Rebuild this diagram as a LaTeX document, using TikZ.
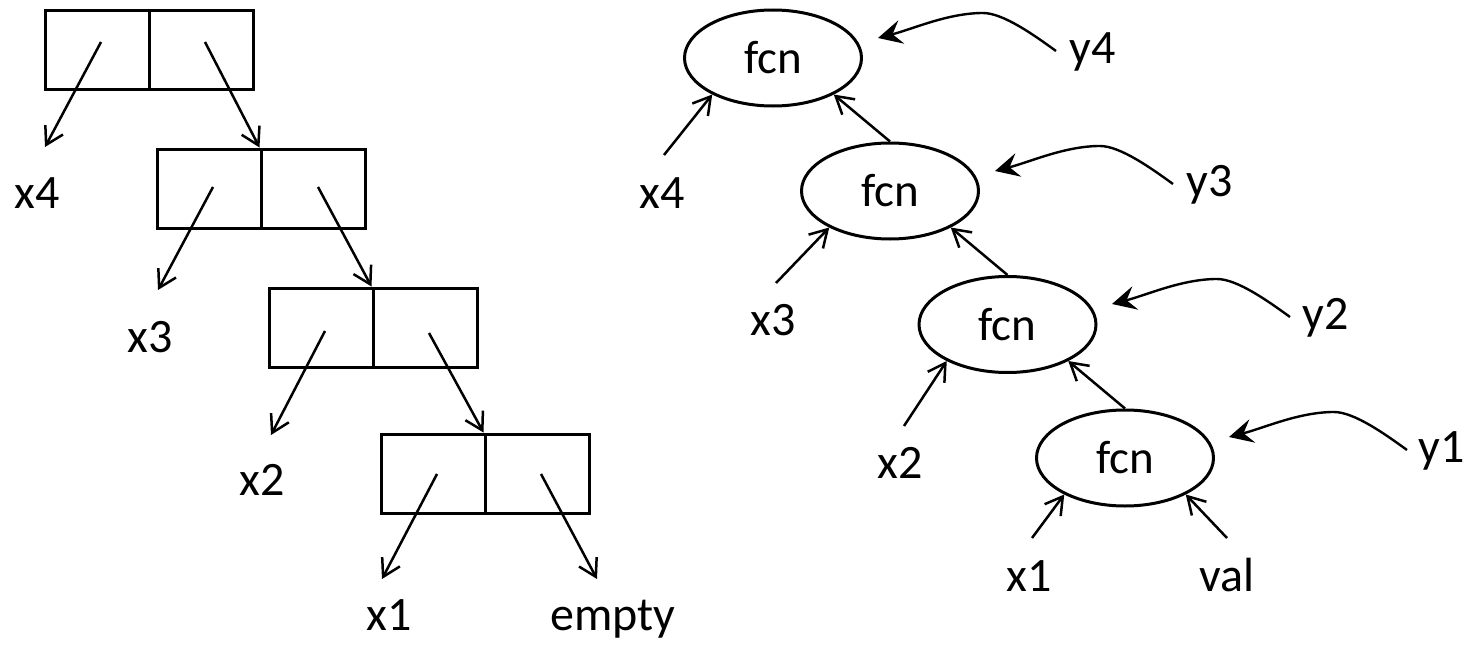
\documentclass[tikz,border=0pt]{standalone}
\usepackage{fontspec}
\setmainfont{Carlito}
\usetikzlibrary{arrows.meta,shapes.geometric}
\tikzset{
  lbl/.style={anchor=base,inner sep=0pt,font=\fontsize{24}{28}\selectfont},
  cell/.style={draw,line width=1.5pt,minimum width=52pt,minimum height=39.5pt,inner sep=0pt},
  fcnnode/.style={draw,ellipse,line width=1.5pt,minimum width=88.5pt,minimum height=48pt,inner sep=0pt,font=\fontsize{23.5}{28}\selectfont},
  ptr/.style={line width=1.25pt,-{Straight Barb[length=8.5pt,width=10pt]}},
  yarr/.style={line width=1.2pt,-{Stealth[length=12pt,width=12pt,inset=4.5pt]}}
}
\begin{document}
\begin{tikzpicture}[x=0.5pt,y=-0.5pt]
\useasboundingbox (0,0) rectangle (1474,648);
% ---- left: boxes
\node[cell] (bL1) at (97,49.5) {};
\node[cell] (bR1) at (201,49.5) {};
\node[cell] (bL2) at (209,188.5) {};
\node[cell] (bR2) at (313,188.5) {};
\node[cell] (bL3) at (321,327.5) {};
\node[cell] (bR3) at (425,327.5) {};
\node[cell] (bL4) at (433,473.5) {};
\node[cell] (bR4) at (537,473.5) {};
% labels
\node[lbl] (lx4) at (37,208) {x4};
\node[lbl] (lx3) at (150,352) {x3};
\node[lbl] (lx2) at (262,495) {x2};
\node[lbl] (lx1) at (389,630) {x1};
\node[lbl,anchor=base west] (lempty) at (550,630) {empty};
% pointer coordinates
\coordinate (s1l) at (101,42);  \coordinate (t1l) at (45,147);
\coordinate (s1r) at (205,42);
\coordinate (s2l) at (213,187); \coordinate (t2l) at (158,290);
\coordinate (s2r) at (318,187);
\coordinate (s3l) at (325,331); \coordinate (t3l) at (271,435);
\coordinate (s3r) at (429,333);
\coordinate (s4l) at (437,474); \coordinate (t4l) at (382,579);
\coordinate (s4r) at (541,474); \coordinate (t4r) at (597,579);
\draw[ptr] (s1l) -- (t1l);
\draw[ptr] (s1r) -- (bR2.north west);
\draw[ptr] (s2l) -- (t2l);
\draw[ptr] (s2r) -- (bR3.north west);
\draw[ptr] (s3l) -- (t3l);
\draw[ptr] (s3r) -- (bR4.north west);
\draw[ptr] (s4l) -- (t4l);
\draw[ptr] (s4r) -- (t4r);
% ---- right: fcn tree
\node[fcnnode] (e1) at (773,58) {fcn};
\node[fcnnode] (e2) at (890,191) {fcn};
\node[fcnnode] (e3) at (1007.5,324.5) {fcn};
\node[fcnnode] (e4) at (1125,458) {fcn};
\node[lbl] (rx4) at (662,208) {x4};
\node[lbl] (rx3) at (773,335) {x3};
\node[lbl] (rx2) at (900,478) {x2};
\node[lbl] (rx1) at (1029,591) {x1};
\node[lbl] (rval) at (1227,591) {val};
\node[lbl] (ly4) at (1093,63) {y4};
\node[lbl] (ly3) at (1210,196) {y3};
\node[lbl] (ly2) at (1326,329) {y2};
\node[lbl] (ly1) at (1442,462) {y1};
% input arrows
\coordinate (ax4) at (664,155);
\coordinate (ax3) at (776,283);
\coordinate (ax2) at (904,426);
\coordinate (ax1) at (1032,538);
\coordinate (aval) at (1227,538);
\draw[ptr] (ax4) -- (e1.-149);
\draw[ptr] (ax3) -- (e2.-149);
\draw[ptr] (ax2) -- (e3.-149);
\draw[ptr] (ax1) -- (e4.-149);
\draw[ptr] (aval) -- (e4.-31);
\draw[ptr] (e2.north) -- (e1.-31);
\draw[ptr] (e3.north) -- (e2.-31);
\draw[ptr] (e4.north) -- (e3.-31);
% y curves
\coordinate (ys4) at (1056,51);  \coordinate (yp4) at (983,13);  \coordinate (yt4) at (878,38);
\coordinate (ys3) at (1173,184); \coordinate (yp3) at (1100,146); \coordinate (yt3) at (995,171);
\coordinate (ys2) at (1290,317); \coordinate (yp2) at (1217,279); \coordinate (yt2) at (1112,304);
\coordinate (ys1) at (1407,450); \coordinate (yp1) at (1334,412); \coordinate (yt1) at (1229,437);
\foreach \i in {1,2,3,4}{
  \draw[yarr] (ys\i) .. controls +(-22,-16) and +(20,0) .. (yp\i) .. controls +(-35,0) and +(35,-9) .. (yt\i);
}
\end{tikzpicture}
\end{document}
